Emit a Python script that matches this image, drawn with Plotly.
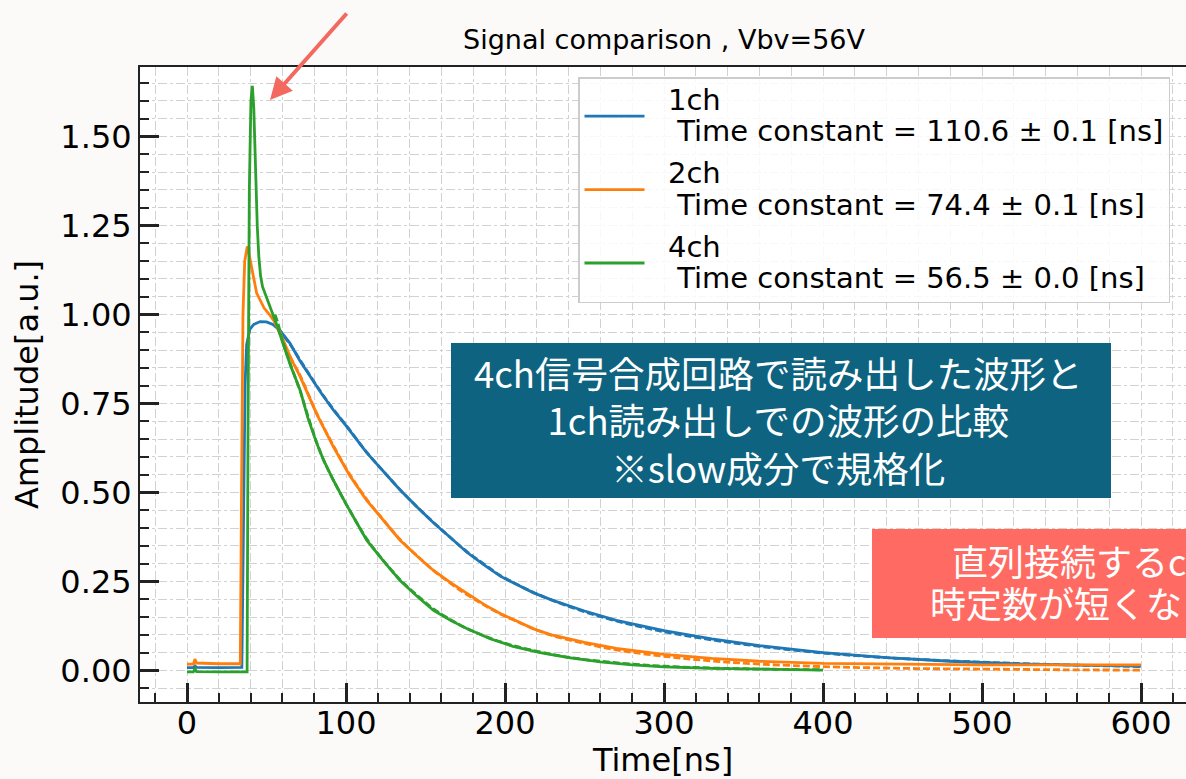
import plotly.graph_objects as go

# ---------------- data ----------------
# 1ch waveform (solid) and its exponential fit (dashed)
t_1ch = [0, 4, 5, 6, 20, 34.5, 35.5, 36.5, 37.5, 39.5, 42, 46, 50, 54, 58.5, 64.8, 71, 77.4, 85, 92,
         100, 113, 124, 134, 145, 155, 166, 176, 187, 197, 208, 218, 230, 250, 270, 300, 330, 360,
         400, 440, 480, 520, 560, 600]
a_1ch = [0.008, 0.008, 0.013, 0.009, 0.008, 0.009, 0.40, 0.80, 0.915, 0.958, 0.972, 0.980, 0.979,
         0.972, 0.955, 0.919, 0.870, 0.825, 0.775, 0.732, 0.688, 0.612, 0.557, 0.507, 0.458, 0.415,
         0.372, 0.332, 0.296, 0.265, 0.240, 0.218, 0.197, 0.167, 0.141, 0.112, 0.089, 0.070, 0.050,
         0.036, 0.026, 0.019, 0.015, 0.012]
t_1ch_fit = [57, 65, 71, 77.4, 85, 92, 100, 113, 124, 134, 145, 155, 166, 176, 187, 197, 208, 218,
             230, 250, 270, 300, 330, 360, 400, 440, 480, 520, 560, 600]
a_1ch_fit = [0.962, 0.915, 0.873, 0.828, 0.777, 0.734, 0.689, 0.613, 0.557, 0.508, 0.458, 0.416,
             0.372, 0.334, 0.298, 0.267, 0.241, 0.219, 0.197, 0.165, 0.139, 0.109, 0.086, 0.068,
             0.049, 0.036, 0.027, 0.020, 0.015, 0.011]

# 2ch
t_2ch = [0, 4, 5, 6, 20, 33.5, 34.3, 35.2, 36.3, 37.9, 39, 40.7, 42.5, 43.8, 46, 48.5, 51.1, 54.3,
         58.5, 65.8, 71.1, 81.6, 92, 102, 113, 124, 134, 145, 155, 166, 176, 187, 197, 208, 218,
         230, 250, 270, 300, 330, 360, 400, 450, 500, 550, 600]
a_2ch = [0.018, 0.018, 0.032, 0.021, 0.019, 0.019, 0.50, 1.00, 1.15, 1.191, 1.17, 1.135, 1.09, 1.06,
         1.038, 1.018, 1.004, 0.985, 0.950, 0.872, 0.826, 0.720, 0.629, 0.550, 0.478, 0.418, 0.366,
         0.320, 0.281, 0.246, 0.216, 0.185, 0.160, 0.138, 0.117, 0.099, 0.079, 0.062, 0.045, 0.034,
         0.026, 0.020, 0.017, 0.016, 0.016, 0.016]
t_2ch_fit = [57, 65, 71.1, 81.6, 92, 102, 113, 124, 134, 145, 155, 166, 176, 187, 197, 208, 218, 230,
             250, 270, 300, 330, 360, 400, 450, 500, 550, 600]
a_2ch_fit = [0.960, 0.880, 0.829, 0.722, 0.632, 0.553, 0.481, 0.420, 0.368, 0.321, 0.281, 0.244,
             0.213, 0.184, 0.159, 0.137, 0.117, 0.098, 0.076, 0.058, 0.040, 0.027, 0.018, 0.011,
             0.006, 0.004, 0.002, 0.001]

# 4ch
t_4ch = [0, 4, 5, 6, 20, 37.8, 38.4, 39.2, 40.2, 41.1, 42, 42.8, 43.5, 44.2, 45.2, 46.3, 47.5, 49,
         51, 53.3, 55.3, 57.2, 60.6, 65, 71.1, 76, 81.6, 86, 92, 100, 113, 124, 134, 145, 155, 166,
         176, 190.6, 205, 222, 240, 260, 280, 300, 330, 360, 400]
a_4ch = [-0.004, -0.004, 0.004, -0.003, -0.004, -0.004, 0.70, 1.35, 1.60, 1.642, 1.58, 1.435, 1.33,
         1.247, 1.16, 1.107, 1.078, 1.060, 1.035, 1.004, 0.985, 0.962, 0.915, 0.858, 0.788, 0.710,
         0.638, 0.590, 0.535, 0.468, 0.366, 0.305, 0.253, 0.207, 0.169, 0.140, 0.118, 0.089, 0.068,
         0.050, 0.036, 0.024, 0.016, 0.010, 0.006, 0.003, 0.001]
t_4ch_fit = [55.3, 57.2, 60.6, 65, 71.1, 76, 81.6, 86, 92, 100, 113, 124, 134, 145, 155, 166, 176,
             190.6, 205, 222, 240, 260, 280, 300, 330, 360, 400]
a_4ch_fit = [1.000, 0.975, 0.920, 0.860, 0.786, 0.715, 0.640, 0.590, 0.535, 0.468, 0.370, 0.306,
             0.255, 0.210, 0.173, 0.142, 0.118, 0.091, 0.070, 0.052, 0.037, 0.026, 0.018, 0.012,
             0.007, 0.004, 0.002]

channel_names = ["1ch", "2ch", "4ch"]
time_constants = ["110.6 ± 0.1", "74.4 ± 0.1", "56.5 ± 0.0"]
colors = ["#1f77b4", "#ff7f0e", "#2ca02c"]

x_ticks = [0, 100, 200, 300, 400, 500, 600]
y_ticks = [0.00, 0.25, 0.50, 0.75, 1.00, 1.25, 1.50]

title_text = "Signal comparison , Vbv=56V"
x_title = "Time[ns]"
y_title = "Amplitude[a.u.]"
box_blue_text = "4ch信号合成回路で読み出した波形と<br>1ch読み出しでの波形の比較<br>※slow成分で規格化"
box_red_line1 = "直列接続するch数が多いほど"
box_red_line2 = "時定数が短くなる傾向"

# ---------------- figure ----------------
W, H = 1186, 779
L, R, T, B = 140, 0, 67, 77
PW, PH = W - L - R, H - T - B


def px(xp):
    return (xp - L) / PW


def py(yp):
    return (H - B - yp) / PH


NB = "\u00a0"
LEG_FS = 29


def legend_label(name, tc):
    return (f"<span style='font-size:{LEG_FS}px'>{NB * 2}{name}</span><br>"
            f"<span style='font-size:{LEG_FS}px'>{NB * 3}Time constant = {tc} [ns]</span>")


fig = go.Figure()
series = [(t_1ch, a_1ch, t_1ch_fit, a_1ch_fit),
          (t_2ch, a_2ch, t_2ch_fit, a_2ch_fit),
          (t_4ch, a_4ch, t_4ch_fit, a_4ch_fit)]
for (tx, ay, tf, af), c, nm, tc in zip(series, colors, channel_names, time_constants):
    fig.add_trace(go.Scatter(x=tx, y=ay, mode="lines", name=legend_label(nm, tc),
                             legendgroup=nm, line=dict(color=c, width=2.8)))
    fig.add_trace(go.Scatter(x=tf, y=af, mode="lines", showlegend=False, legendgroup=nm,
                             line=dict(color=c, width=2.8, dash="7px,3px", shape="spline")))

grid_col = "#d2d2d2"
axis_col = "#222222"
fig.update_layout(
    width=W, height=H,
    margin=dict(l=L, r=R, t=T, b=B, autoexpand=False),
    paper_bgcolor="#fbfaf8",
    plot_bgcolor="white",
    font=dict(family="DejaVu Sans", color="black"),
    title=dict(text=title_text, font=dict(size=27, color="black"),
               x=px(664), xref="paper", xanchor="center",
               y=1 - 40 / H, yref="container", yanchor="middle"),
    showlegend=True,
    legend=dict(x=px(578), y=py(77), xanchor="left", yanchor="top",
                bgcolor="rgba(255,255,255,0.85)", bordercolor="#cccccc", borderwidth=1.5,
                font=dict(family="DejaVu Sans", size=24, color="black"),
                itemwidth=60, tracegroupgap=8),
)
fig.update_xaxes(
    range=[-29.56, 628.3], tickmode="array", tickvals=x_ticks,
    ticktext=[str(v) for v in x_ticks],
    showline=True, linecolor=axis_col, linewidth=2, mirror=True,
    ticks="inside", ticklen=19, tickwidth=2.5, tickcolor=axis_col,
    tickfont=dict(size=32, color="black"), ticklabelstandoff=-8,
    showgrid=True, gridcolor=grid_col, griddash="dashdot", gridwidth=1,
    minor=dict(dtick=20, tick0=0, ticks="inside", ticklen=9, tickwidth=2, tickcolor=axis_col,
               showgrid=True, gridcolor=grid_col, griddash="dashdot", gridwidth=1),
    zeroline=False,
    title=dict(text=x_title, font=dict(size=32, color="black"), standoff=10),
)
fig.update_yaxes(
    range=[-0.0885, 1.695], tickmode="array", tickvals=y_ticks,
    ticktext=[f"{v:.2f}" for v in y_ticks],
    showline=True, linecolor=axis_col, linewidth=2, mirror=False,
    ticks="inside", ticklen=19, tickwidth=2.5, tickcolor=axis_col,
    tickfont=dict(size=32, color="black"),
    showgrid=True, gridcolor=grid_col, griddash="dashdot", gridwidth=1,
    minor=dict(dtick=0.05, tick0=0, ticks="inside", ticklen=9, tickwidth=2, tickcolor=axis_col,
               showgrid=True, gridcolor=grid_col, griddash="dashdot", gridwidth=1),
    zeroline=False,
    title=dict(text=y_title, font=dict(size=32, color="black"), standoff=12),
)

# overlay boxes
fig.add_shape(type="rect", xref="paper", yref="paper",
              x0=px(451), x1=px(1111), y0=py(498), y1=py(343),
              fillcolor="#0d6380", line=dict(width=0), layer="above")
fig.add_shape(type="rect", xref="paper", yref="paper",
              x0=px(872), x1=px(1400), y0=py(638), y1=py(529),
              fillcolor="#ff6b62", line=dict(width=0), layer="above")

cjk = "Noto Sans CJK JP"
fig.add_annotation(xref="paper", yref="paper", x=px(778), y=py(420),
                   text=box_blue_text, showarrow=False, align="center",
                   xanchor="center", yanchor="middle",
                   font=dict(family=cjk, size=36.5, color="white"))
fig.add_annotation(xref="paper", yref="paper", x=px(950), y=py(560),
                   text=box_red_line1, showarrow=False, xanchor="left", yanchor="middle",
                   font=dict(family=cjk, size=36, color="white"))
fig.add_annotation(xref="paper", yref="paper", x=px(928), y=py(602),
                   text=box_red_line2, showarrow=False, xanchor="left", yanchor="middle",
                   font=dict(family=cjk, size=36, color="white"))

# red arrow pointing at the 4ch fast peak
fig.add_annotation(xref="paper", yref="paper", x=px(270), y=py(100),
                   text="", showarrow=True, ax=78, ay=-88,
                   arrowhead=2, arrowsize=1.1, arrowwidth=4, arrowcolor="#f4695f")

fig.write_html("out.html", config={"displayModeBar": False},
               post_script="document.body.style.margin='0';document.body.style.overflow='hidden';")
